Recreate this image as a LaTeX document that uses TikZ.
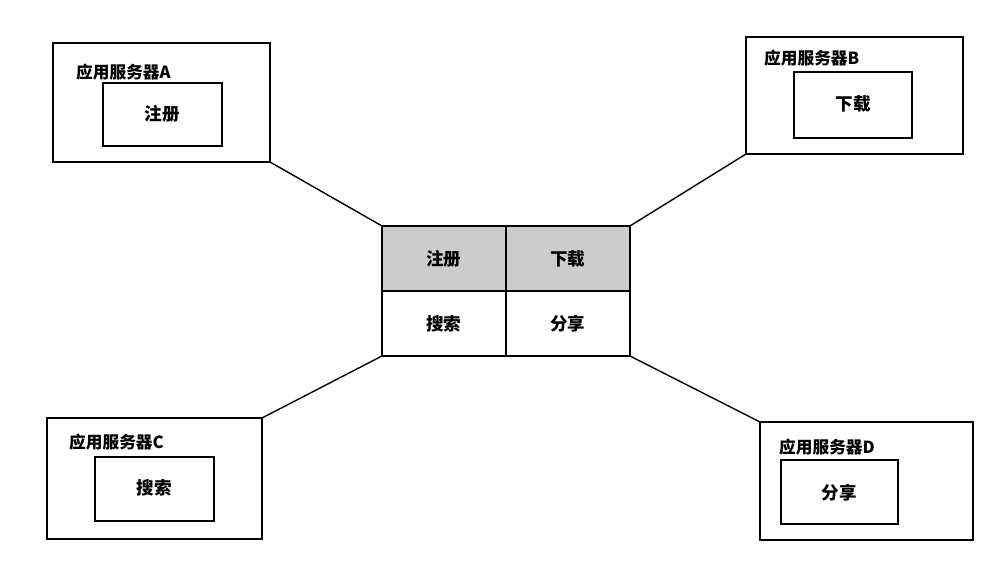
\documentclass[tikz,border=0pt]{standalone}
\usepackage{fontspec}
\newfontfamily\cjk{Noto Sans CJK SC}
\usetikzlibrary{positioning}
\tikzset{
  box/.style={draw=black, thick, inner sep=0pt},
  cell/.style={draw=black, thick, minimum width=2.48cm, minimum height=1.3cm, inner sep=0pt, outer sep=0pt, font=\cjk\bfseries\fontsize{10}{12}\selectfont},
  word/.style={font=\cjk\bfseries\fontsize{10}{12}\selectfont},
  tag/.style={anchor=west, font=\cjk\bfseries\fontsize{9.5}{11}\selectfont},
  link/.style={draw=black, thick}
}
\begin{document}
\begin{tikzpicture}[x=0.02cm, y=-0.02cm]
  \useasboundingbox (0,0) rectangle (1000,581);

  % ========== CENTER GRID ==========
  \node[cell, fill=gray!40, anchor=north west] (reg) at (382,226) {注册};
  \node[cell, fill=gray!40, right=0pt of reg] (dl) {下载};
  \node[cell, below=0pt of reg] (srch) {搜索};
  \node[cell, below=0pt of dl] (share) {分享};

  % ========== SERVERS ==========
  % Server A
  \draw[box] (53,43) rectangle (270,162);
  \draw[box] (103,83) rectangle (222,146);
  \node[tag] at (70,72) {应用服务器A};
  \node[word] at (162,114) {注册};
  \coordinate (sa) at (270,162);
  % Server B
  \draw[box] (746,37) rectangle (963,154);
  \draw[box] (794,72) rectangle (912,138);
  \node[tag] at (758,58) {应用服务器B};
  \node[word] at (853,104) {下载};
  \coordinate (sb) at (746,154);
  % Server C
  \draw[box] (47,418) rectangle (262,539);
  \draw[box] (95,457) rectangle (214,521);
  \node[tag] at (63,442) {应用服务器C};
  \node[word] at (154,488) {搜索};
  \coordinate (sc) at (262,418);
  % Server D
  \draw[box] (760,422) rectangle (973,540);
  \draw[box] (781,460) rectangle (898,524);
  \node[tag] at (773,447) {应用服务器D};
  \node[word] at (839,493) {分享};
  \coordinate (sd) at (760,422);

  % ========== LINKS ==========
  \draw[link] (sa) -- (reg.north west);
  \draw[link] (sb) -- (dl.north east);
  \draw[link] (sc) -- (srch.south west);
  \draw[link] (sd) -- (share.south east);
\end{tikzpicture}
\end{document}
